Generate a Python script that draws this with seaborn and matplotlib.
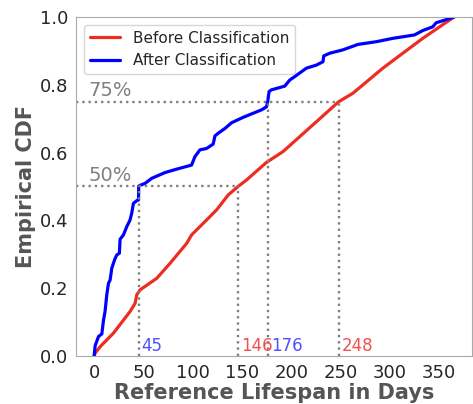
import numpy as np
import pandas as pd
import matplotlib
matplotlib.use("Agg")
import matplotlib.pyplot as plt
import seaborn as sns

# ------------------------
# Data (days, cumulative share)
# ------------------------
before_days = [0, 1, 6, 19.5, 36.4, 41.5, 43.2, 46.6, 63.5, 76.9, 93.8, 98.8, 114, 124.2,
               136, 146, 154.5, 174.8, 191.6, 208.5, 225.4, 248, 262.4, 292.8, 313,
               333.3, 365]
before_cdf = [0, 0.008, 0.027, 0.067, 0.131, 0.155, 0.18, 0.195, 0.229, 0.273, 0.332,
              0.357, 0.401, 0.431, 0.475, 0.5, 0.519, 0.571, 0.603, 0.647, 0.691, 0.75,
              0.775, 0.849, 0.893, 0.937, 1.0]

after_days = [0, 1, 4.4, 7.8, 9.5, 11, 12.8, 14.5, 16.2, 17.9, 19.5, 21.3, 23, 25.6, 26.3,
              29.7, 33, 36.4, 38.1, 39.8, 43.2, 45, 45.2, 47.2, 51.6, 58.4, 71.9, 83.6,
              98.8, 102.2, 107.3, 114, 120.7, 122.5, 125.8, 132.6, 139.4, 151.2, 161.3,
              169.8, 174.8, 176, 177.4, 179.8, 193.3, 198.4, 203.4, 215.3, 225.4, 232.1,
              232.8, 238.9, 252.3, 267.5, 286.1, 303, 324.9, 333.3, 343.4, 346.9, 353.6,
              365]
after_cdf = [0, 0.03, 0.057, 0.065, 0.106, 0.13, 0.18, 0.214, 0.224, 0.259, 0.273, 0.288,
             0.298, 0.303, 0.344, 0.357, 0.381, 0.401, 0.421, 0.45, 0.458, 0.46, 0.501,
             0.504, 0.509, 0.524, 0.541, 0.551, 0.563, 0.588, 0.608, 0.612, 0.625, 0.649,
             0.657, 0.671, 0.688, 0.704, 0.716, 0.726, 0.735, 0.75, 0.78, 0.785, 0.796,
             0.814, 0.824, 0.849, 0.858, 0.868, 0.885, 0.893, 0.903, 0.919, 0.927, 0.937,
             0.947, 0.96, 0.971, 0.983, 0.989, 1.0]

# quantile markers: (level, before, after)
levels = [0.5, 0.75]
before_q = [146, 248]
after_q = [45, 176]

# ------------------------
# Plot
# ------------------------
sns.set_style("whitegrid")
fig, ax = plt.subplots(figsize=(4.73, 4.04), dpi=100)
fig.subplots_adjust(left=0.161, right=0.998, top=0.958, bottom=0.119)

sns.lineplot(x=before_days, y=before_cdf, sort=False, color="#ee2d22", lw=2.3,
             label="Before Classification", ax=ax)
sns.lineplot(x=after_days, y=after_cdf, sort=False, color="#0000ff", lw=2.3,
             label="After Classification", ax=ax)

ax.set_xlim(-18.25, 383.25)
ax.set_ylim(0, 1.0)
ax.grid(False)
for s in ax.spines.values():
    s.set_color("#aaaaaa")

x0 = ax.get_xlim()[0]
for lev, bq, aq in zip(levels, before_q, after_q):
    ax.plot([x0, bq], [lev, lev], ls=":", color="gray", lw=1.7)
    ax.plot([aq, aq], [0, lev], ls=":", color="gray", lw=1.7)
    ax.plot([bq, bq], [0, lev], ls=":", color="gray", lw=1.7)
    ax.text(-6, lev + 0.005, f"{int(lev * 100)}%", color="gray", fontsize=14, va="bottom")
    ax.text(aq + 3, 0.003, str(aq), color="#5050ff", fontsize=12, va="bottom")
    ax.text(bq + 3, 0.003, str(bq), color="#f05050", fontsize=12, va="bottom")

ax.set_xticks([0, 50, 100, 150, 200, 250, 300, 350])
ax.set_yticks([0, 0.2, 0.4, 0.6, 0.8, 1.0])
ax.tick_params(labelsize=13, pad=2)
ax.set_xlabel("Reference Lifespan in Days", fontsize=15, fontweight="bold", color="#555555",
              labelpad=1)
ax.set_ylabel("Empirical CDF", fontsize=15, fontweight="bold", color="#555555", labelpad=3)

ax.legend(loc="upper left", fontsize=11, frameon=True)

plt.savefig("out.png", dpi=100)
